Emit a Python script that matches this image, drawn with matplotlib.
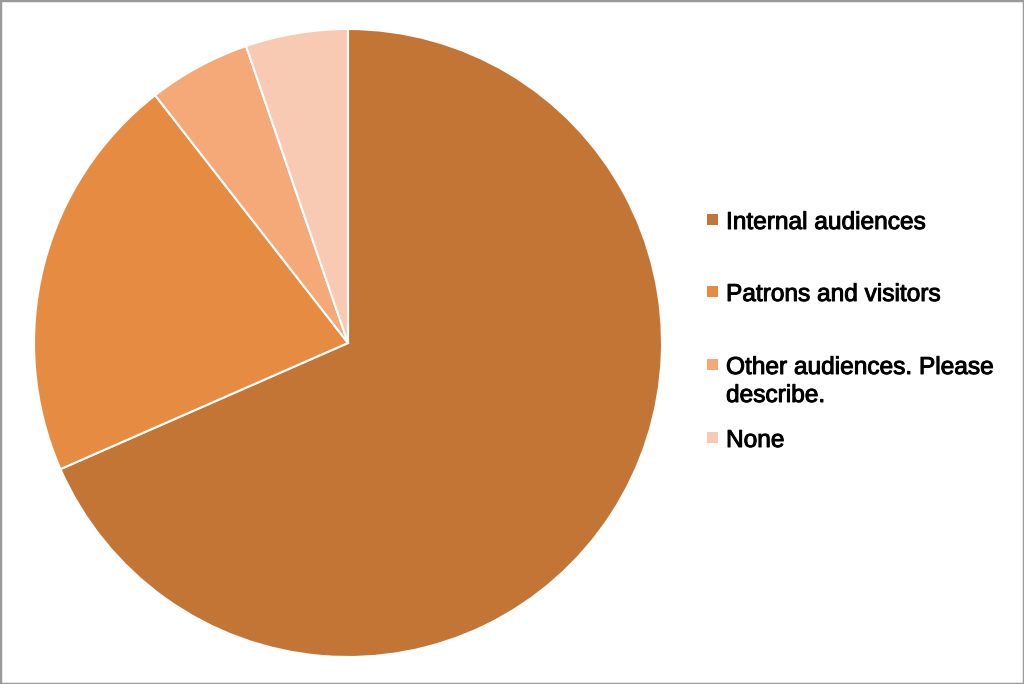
import matplotlib
matplotlib.use("Agg")
import matplotlib.pyplot as plt
import matplotlib.patheffects as pe
from matplotlib.patches import Rectangle

# data
labels = ["Internal audiences", "Patrons and visitors", "Other audiences. Please\ndescribe.", "None"]
counts = [13, 4, 1, 1]
colors = ["#C37536", "#E68C42", "#F5A878", "#F8CAB4"]

W, H = 1024, 684
FONT_SIZE = 17.6

plt.rcParams["font.family"] = ["Liberation Sans", "DejaVu Sans"]

fig = plt.figure(figsize=(W / 100, H / 100), dpi=100)

# pie: centre (348, 343) px, radius 314 px
cx, cy, r = 348, 343, 314
ax = fig.add_axes([(cx - r) / W, 1 - (cy + r) / H, 2 * r / W, 2 * r / H])
ax.pie(counts, colors=colors, startangle=90, counterclock=False,
       radius=1, wedgeprops=dict(edgecolor="white", linewidth=1.5))
ax.set_xlim(-1, 1)
ax.set_ylim(-1, 1)
ax.set_aspect("equal")
ax.axis("off")

# slightly heavier text, like the original's medium weight
thick = [pe.withStroke(linewidth=0.7, foreground="black")]

# legend, fixed row pitch like the original
baselines = [229, 301, 374, 447]
for lab, col, base in zip(labels, colors, baselines):
    fig.patches.append(Rectangle((707 / W, 1 - (base - 4) / H), 11 / W, 11 / H,
                                 transform=fig.transFigure, facecolor=col,
                                 edgecolor="none"))
    lines = lab.split("\n")
    for k, line in enumerate(lines):
        fig.text(726 / W, 1 - (base + 28 * k) / H, line, fontsize=FONT_SIZE,
                 va="baseline", ha="left", color="black", path_effects=thick)

# grey frame round the picture
fig.patches.append(Rectangle((0, 0), 1, 1, transform=fig.transFigure, fill=False,
                             edgecolor="#9a9a9a", linewidth=2.5))

fig.savefig("out.png", dpi=100)
